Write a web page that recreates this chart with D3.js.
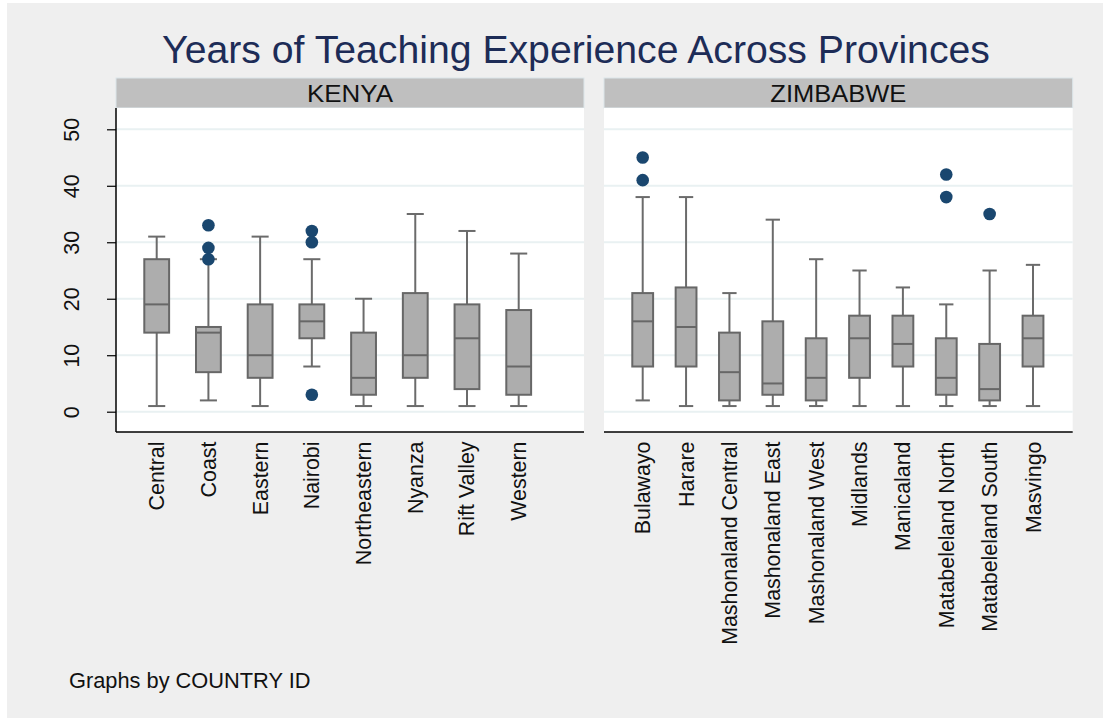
<!DOCTYPE html>
<html>
<head>
<meta charset="utf-8">
<script src="https://cdn.jsdelivr.net/npm/d3@7"></script>
<style>
  body { margin: 0; background: #ffffff; }
  svg { display: block; font-family: "Liberation Sans", Arial, sans-serif; }
</style>
</head>
<body>
<div id="chart"></div>
<script>
// Years of teaching experience, box plots by province

var kenyaProvinces = ["Central", "Coast", "Eastern", "Nairobi", "Northeastern", "Nyanza", "Rift Valley", "Western"];
var kenyaLow    = [1, 2, 1, 8, 1, 1, 1, 1];
var kenyaQ1     = [14, 7, 6, 13, 3, 6, 4, 3];
var kenyaMedian = [19, 14, 10, 16, 6, 10, 13, 8];
var kenyaQ3     = [27, 15, 19, 19, 14, 21, 19, 18];
var kenyaHigh   = [31, 27, 31, 27, 20, 35, 32, 28];
var kenyaOutliers = [
  ["Coast", 33], ["Coast", 29], ["Coast", 27],
  ["Nairobi", 32], ["Nairobi", 30], ["Nairobi", 3]
];

var zimProvinces = ["Bulawayo", "Harare", "Mashonaland Central", "Mashonaland East", "Mashonaland West",
                    "Midlands", "Manicaland", "Matabeleland North", "Matabeleland South", "Masvingo"];
var zimLow    = [2, 1, 1, 1, 1, 1, 1, 1, 1, 1];
var zimQ1     = [8, 8, 2, 3, 2, 6, 8, 3, 2, 8];
var zimMedian = [16, 15, 7, 5, 6, 13, 12, 6, 4, 13];
var zimQ3     = [21, 22, 14, 16, 13, 17, 17, 13, 12, 17];
var zimHigh   = [38, 38, 21, 34, 27, 25, 22, 19, 25, 26];
var zimOutliers = [
  ["Bulawayo", 45], ["Bulawayo", 41],
  ["Matabeleland North", 42], ["Matabeleland North", 38],
  ["Matabeleland South", 35]
];

var yTicks = [0, 10, 20, 30, 40, 50];

var w = 1103;
var h = 719;
var plotTop = 108;
var plotBottom = 432;

function stats(cats, lo, q1, med, q3, hi) {
  return cats.map(function (c, i) {
    return {cat: c, lo: lo[i], q1: q1[i], med: med[i], q3: q3[i], hi: hi[i]};
  });
}

var panels = [
  {name: "KENYA", labelW: 86, x0: 116, x1: 584, first: 40.7, last: 402.7, axis: true,
   boxes: stats(kenyaProvinces, kenyaLow, kenyaQ1, kenyaMedian, kenyaQ3, kenyaHigh),
   cats: kenyaProvinces, outliers: kenyaOutliers},
  {name: "ZIMBABWE", labelW: 136, x0: 604, x1: 1072.7, first: 38.7, last: 429,
   boxes: stats(zimProvinces, zimLow, zimQ1, zimMedian, zimQ3, zimHigh),
   cats: zimProvinces, outliers: zimOutliers}
];

var svg = d3.select("#chart")
            .append("svg")
            .attr("width", w)
            .attr("height", h);

// outer grey background (thin white edge like the export)
svg.append("rect")
   .attr("x", 7).attr("y", 3)
   .attr("width", w - 7).attr("height", h - 4)
   .attr("fill", "#efefef");

var y = d3.scaleLinear()
          .domain([0, 50])
          .range([411.7, 129.3]);

svg.append("text")
   .attr("x", 576)
   .attr("y", 63)
   .attr("text-anchor", "middle")
   .attr("font-size", 39.2)
   .attr("fill", "#1d2c57")
   .text("Years of Teaching Experience Across Provinces");

panels.forEach(function (p) {
  var g = svg.append("g").attr("transform", "translate(" + p.x0 + ",0)");
  var pw = p.x1 - p.x0;

  var x = d3.scalePoint()
            .domain(p.cats)
            .range([p.first, p.last]);
  var step = x.step();
  var boxW = step * 0.48;
  var capW = step * 0.33;

  // strip
  g.append("rect")
   .attr("x", 0).attr("y", 78)
   .attr("width", pw).attr("height", 30)
   .attr("fill", "#bfbfbf")
   .attr("stroke", "#dce6ea")
   .attr("stroke-width", 1);
  g.append("text")
   .attr("x", pw / 2).attr("y", 102)
   .attr("text-anchor", "middle")
   .attr("font-size", 23)
   .attr("textLength", p.labelW)
   .attr("lengthAdjust", "spacingAndGlyphs")
   .attr("fill", "#111")
   .text(p.name);

  // plot region
  g.append("rect")
   .attr("x", 0).attr("y", plotTop)
   .attr("width", pw).attr("height", plotBottom - plotTop)
   .attr("fill", "#ffffff");

  g.selectAll("line.grid")
   .data(yTicks)
   .enter()
   .append("line")
   .attr("class", "grid")
   .attr("x1", 0).attr("x2", pw)
   .attr("y1", function (d) { return y(d); })
   .attr("y2", function (d) { return y(d); })
   .attr("stroke", "#e9f1f2")
   .attr("stroke-width", 2);

  // whiskers
  var bx = g.selectAll("g.box")
            .data(p.boxes)
            .enter()
            .append("g")
            .attr("class", "box")
            .attr("transform", function (d) { return "translate(" + x(d.cat) + ",0)"; });

  bx.append("line")
    .attr("x1", 0).attr("x2", 0)
    .attr("y1", function (d) { return y(d.lo); })
    .attr("y2", function (d) { return y(d.hi); })
    .attr("stroke", "#6b6b6b").attr("stroke-width", 2);
  bx.append("line")
    .attr("x1", -capW / 2).attr("x2", capW / 2)
    .attr("y1", function (d) { return y(d.lo); })
    .attr("y2", function (d) { return y(d.lo); })
    .attr("stroke", "#6b6b6b").attr("stroke-width", 2);
  bx.append("line")
    .attr("x1", -capW / 2).attr("x2", capW / 2)
    .attr("y1", function (d) { return y(d.hi); })
    .attr("y2", function (d) { return y(d.hi); })
    .attr("stroke", "#6b6b6b").attr("stroke-width", 2);

  bx.append("rect")
    .attr("x", -boxW / 2)
    .attr("width", boxW)
    .attr("y", function (d) { return y(d.q3); })
    .attr("height", function (d) { return y(d.q1) - y(d.q3); })
    .attr("fill", "#adadad")
    .attr("stroke", "#676767")
    .attr("stroke-width", 2);
  bx.append("line")
    .attr("x1", -boxW / 2).attr("x2", boxW / 2)
    .attr("y1", function (d) { return y(d.med); })
    .attr("y2", function (d) { return y(d.med); })
    .attr("stroke", "#676767").attr("stroke-width", 2);

  g.selectAll("circle.out")
   .data(p.outliers)
   .enter()
   .append("circle")
   .attr("class", "out")
   .attr("cx", function (d) { return x(d[0]); })
   .attr("cy", function (d) { return y(d[1]); })
   .attr("r", 6.3)
   .attr("fill", "#1a476f");

  // bottom axis line + category labels
  g.append("line")
   .attr("x1", 0).attr("x2", pw)
   .attr("y1", plotBottom).attr("y2", plotBottom)
   .attr("stroke", "#000").attr("stroke-width", 1.5);

  g.selectAll("text.cat")
   .data(p.cats)
   .enter()
   .append("text")
   .attr("class", "cat")
   .attr("text-anchor", "end")
   .attr("font-size", 21.4)
   .attr("fill", "#111")
   .attr("dy", "0.35em")
   .attr("transform", function (d) { return "translate(" + x(d) + "," + 441.5 + ") rotate(-90)"; })
   .text(function (d) { return d; });

  if (p.axis) {
    var yAxis = d3.axisLeft(y)
                  .tickValues(yTicks)
                  .tickSize(9)
                  .tickPadding(0)
                  .tickFormat(d3.format("d"));
    var ax = g.append("g").call(yAxis);
    ax.select(".domain").remove();
    ax.selectAll(".tick line").attr("stroke", "#000").attr("stroke-width", 1.2);
    ax.selectAll(".tick text")
      .attr("font-size", 21.4)
      .attr("font-family", "Liberation Sans, Arial, sans-serif")
      .attr("fill", "#111")
      .attr("x", 0).attr("y", 0).attr("dy", 0)
      .attr("text-anchor", "middle")
      .attr("transform", "translate(-37,0) rotate(-90)");
    g.append("line")
     .attr("x1", 0).attr("x2", 0)
     .attr("y1", plotTop).attr("y2", plotBottom)
     .attr("stroke", "#000").attr("stroke-width", 1.5);
  }
});

svg.append("text")
   .attr("x", 69)
   .attr("y", 688)
   .attr("font-size", 21.8)
   .attr("fill", "#111")
   .text("Graphs by COUNTRY ID");
</script>
</body>
</html>
